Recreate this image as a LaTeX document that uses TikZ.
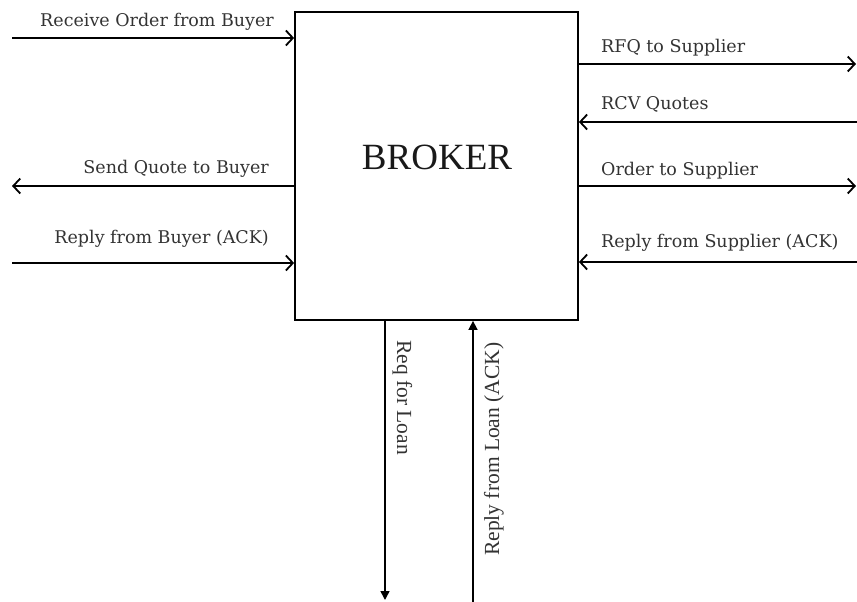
\documentclass[tikz,border=0pt]{standalone}
\usepackage{fontspec}
\setmainfont{DejaVu Serif}
\newfontfamily\timesf{Liberation Serif}
\usetikzlibrary{arrows.meta}
\tikzset{
  flow/.style={line width=1.8pt,-{Straight Barb[length=7pt,width=15pt,line width=1.8pt]}},
  vflow/.style={line width=1.6pt,-{Triangle[length=9pt,width=9pt]}},
  lbl/.style={inner sep=0pt,font=\fontsize{17.5}{20}\selectfont,text=black!80},
  vlbl/.style={inner sep=0pt,font=\timesf\fontsize{21.5}{24}\selectfont,text=black!80}
}
\begin{document}
\begin{tikzpicture}[x=1pt,y=-1pt]
\useasboundingbox (0,0) rectangle (857,602);
\node[draw,line width=1.8pt,minimum width=283pt,minimum height=308pt,inner sep=0pt] (box) at (436.5,166) {};
\node[font=\timesf\fontsize{37}{40}\selectfont,text=black!90] (title) at (437,157) {BROKER};
% left side
\coordinate (l1) at (12,38);
\coordinate (l2) at (12,186);
\coordinate (l3) at (12,263);
\draw[flow] (l1) -- (l1 -| box.west);
\draw[flow] (l2 -| box.west) -- (l2);
\draw[flow] (l3) -- (l3 -| box.west);
\node[lbl,anchor=base east] (t1) at (274,27) {Receive Order from Buyer};
\node[lbl,anchor=base east] (t2) at (269,173) {Send Quote to Buyer};
\node[lbl,anchor=base east] (t3) at (269,243) {Reply from Buyer (ACK)};
% right side
\coordinate (r1) at (856,64);
\coordinate (r2) at (857,122);
\coordinate (r3) at (856,186);
\coordinate (r4) at (857,262);
\draw[flow] (r1 -| box.east) -- (r1);
\draw[flow] (r2) -- (r2 -| box.east);
\draw[flow] (r3 -| box.east) -- (r3);
\draw[flow] (r4) -- (r4 -| box.east);
\node[lbl,anchor=base west] (t4) at (601,53) {RFQ to Supplier};
\node[lbl,anchor=base west] (t5) at (601,110) {RCV Quotes};
\node[lbl,anchor=base west] (t6) at (601,175) {Order to Supplier};
\node[lbl,anchor=base west] (t7) at (601,247) {Reply from Supplier (ACK)};
% bottom
\coordinate (b1) at (385,600);
\coordinate (b2) at (473,602);
\draw[vflow] (b1 |- box.south) -- (b1);
\draw[vflow] (b2) -- (b2 |- box.south);
\node[vlbl,rotate=-90,anchor=base west] (t8) at (397,340) {Req for Loan};
\node[vlbl,rotate=90,anchor=base west] (t9) at (499,556) {Reply from Loan (ACK)};
\end{tikzpicture}
\end{document}
